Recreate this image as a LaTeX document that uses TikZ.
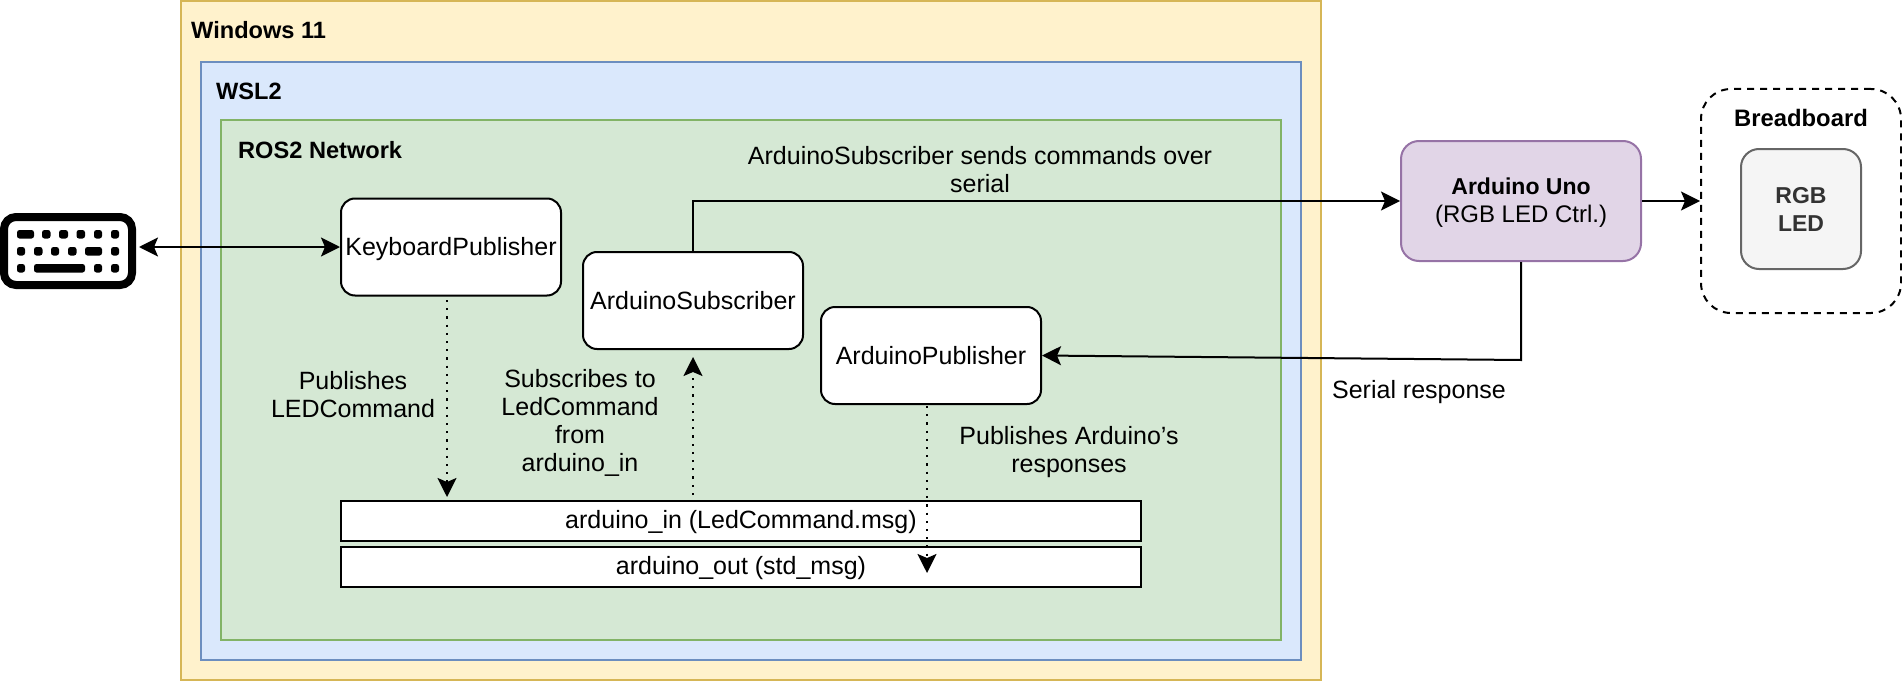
\documentclass[tikz,border=0pt]{standalone}
\usepackage{fontspec}
\setmainfont{Liberation Sans}
\usepackage{tikz}
\usetikzlibrary{arrows.meta}

\definecolor{winfill}{HTML}{FFF2CC}
\definecolor{windraw}{HTML}{D6B656}
\definecolor{wslfill}{HTML}{DAE8FC}
\definecolor{wsldraw}{HTML}{6C8EBF}
\definecolor{rosfill}{HTML}{D5E8D4}
\definecolor{rosdraw}{HTML}{82B366}
\definecolor{unofill}{HTML}{E1D5E7}
\definecolor{unodraw}{HTML}{9673A6}
\definecolor{ledfill}{HTML}{F5F5F5}
\definecolor{leddraw}{HTML}{666666}
\definecolor{ledtext}{HTML}{333333}

\begin{document}
\begin{tikzpicture}[
    x=1pt, y=-1pt,
    every node/.style={
        inner sep=0pt,
        align=center,
        font=\fontsize{25}{28}\selectfont
    },
    container/.style={draw, line width=2pt, anchor=north west},
    title/.style={anchor=west, font=\fontsize{23.6}{28}\selectfont\bfseries},
    rosnode/.style={
        draw, fill=white, line width=2pt, rounded corners=14pt,
        minimum width=220pt, minimum height=97pt,
        text height=24pt, text depth=6pt
    },
    topic/.style={
        draw, fill=white, line width=2pt,
        minimum width=800pt, minimum height=40pt,
        text height=19.5pt, text depth=5pt
    },
    link/.style={-{Stealth[length=19pt,width=19pt,inset=4pt]}, line width=2pt},
    dotlink/.style={link, dash pattern=on 2.2pt off 6pt}
]
\useasboundingbox (0,0) rectangle (1902,682);

% nested frames
\node[container, fill=winfill, draw=windraw, minimum width=1140pt, minimum height=679pt] (win) at (180,0) {};
\node[container, fill=wslfill, draw=wsldraw, minimum width=1100pt, minimum height=598pt] (wsl) at (200,61) {};
\node[container, fill=rosfill, draw=rosdraw, minimum width=1060pt, minimum height=520pt] (ros) at (220,119) {};
\node[title] (wintitle) at (191,30) {Windows 11};
\node[title] (wsltitle) at (216,91) {WSL2};
\node[title] (rostitle) at (238,150) {ROS2 Network};

% keyboard
\node[draw, line width=8pt, rounded corners=12pt, minimum width=128pt, minimum height=68pt] (keyboard) at (68,251) {};
\foreach \xa/\xb/\ya in {17/34/230, 42/50.5/230, 59/68/230, 76.5/85/230, 94/102/230, 111/119/230,
    17/25/247, 34/42.5/247, 51/59/247, 68/76.5/247, 85/102/247, 111/119/247,
    17/25/264, 34/85/264, 94/102/264, 111/119/264}{
    \fill[rounded corners=2.5pt] (\xa,\ya) rectangle (\xb,\ya+8.5);
}

% ros nodes and topics
\node[rosnode, text height=21pt, text depth=5pt] (kbdpub) at (451,247) {KeyboardPublisher};
\node[rosnode] (ardsub) at (693,300.5) {ArduinoSubscriber};
\node[rosnode] (ardpub) at (931,355.5) {ArduinoPublisher};
\node[topic] (inbox) at (741,521) {arduino\_in (LedCommand.msg)};
\node[topic] (outbox) at (741,567) {arduino\_out (std\_msg)};

% arduino and breadboard
\node[draw=unodraw, fill=unofill, line width=2pt, rounded corners=18pt, minimum width=240pt, minimum height=120pt, font=\fontsize{24}{28}\selectfont] (arduino) at (1521,201) {\rule{0pt}{20pt}{\fontsize{23}{28}\selectfont\bfseries Arduino Uno}\\(RGB LED Ctrl.)};
\node[draw, line width=2pt, dash pattern=on 7pt off 6pt, rounded corners=30pt, minimum width=200pt, minimum height=224pt] (breadboard) at (1801,201) {};
\node[font=\fontsize{23.8}{28}\selectfont\bfseries] (breadtitle) at (1801,118) {Breadboard};
\node[draw=leddraw, fill=ledfill, text=ledtext, line width=2pt, rounded corners=18pt, minimum width=120pt, minimum height=120pt, font=\fontsize{23}{28}\selectfont\bfseries] (led) at (1801,209) {RGB\\LED};

% labels
\node (sendlabel) at (980,169.5) {ArduinoSubscriber sends commands over\\serial};
\node (publabel) at (353,395) {Publishes\\LEDCommand};
\node (sublabel) at (580,423) {Subscribes to\\LedCommand\\from\\arduino\_in};
\node (resplabel) at (1069,452) {Publishes Arduino’s\\responses};
\node (seriallabel) at (1419,392) {Serial response};

% connectors
\coordinate (kbddot) at (447,300);
\coordinate (subdot) at (693,495);
\coordinate (pubdot) at (927,406);
\coordinate (outdot) at (927,573);
\coordinate (backcorner) at (1521,360);

\draw[link, {Stealth[length=19pt,width=19pt,inset=4pt]}-{Stealth[length=19pt,width=19pt,inset=4pt]}, shorten <=3pt] (keyboard.east |- kbdpub.west) -- (kbdpub.west);
\draw[link] (ardsub.north) |- (arduino.west);
\draw[link] (arduino.east) -- (breadboard.west);
\draw[link] (arduino.south) -- (backcorner) -- (ardpub.east);
\draw[dotlink, shorten >=3pt] (kbddot) -- (kbddot |- inbox.north);
\draw[dotlink, shorten >=7pt] (subdot) -- (ardsub.south);
\draw[dotlink] (pubdot) -- (outdot);
\end{tikzpicture}
\end{document}
